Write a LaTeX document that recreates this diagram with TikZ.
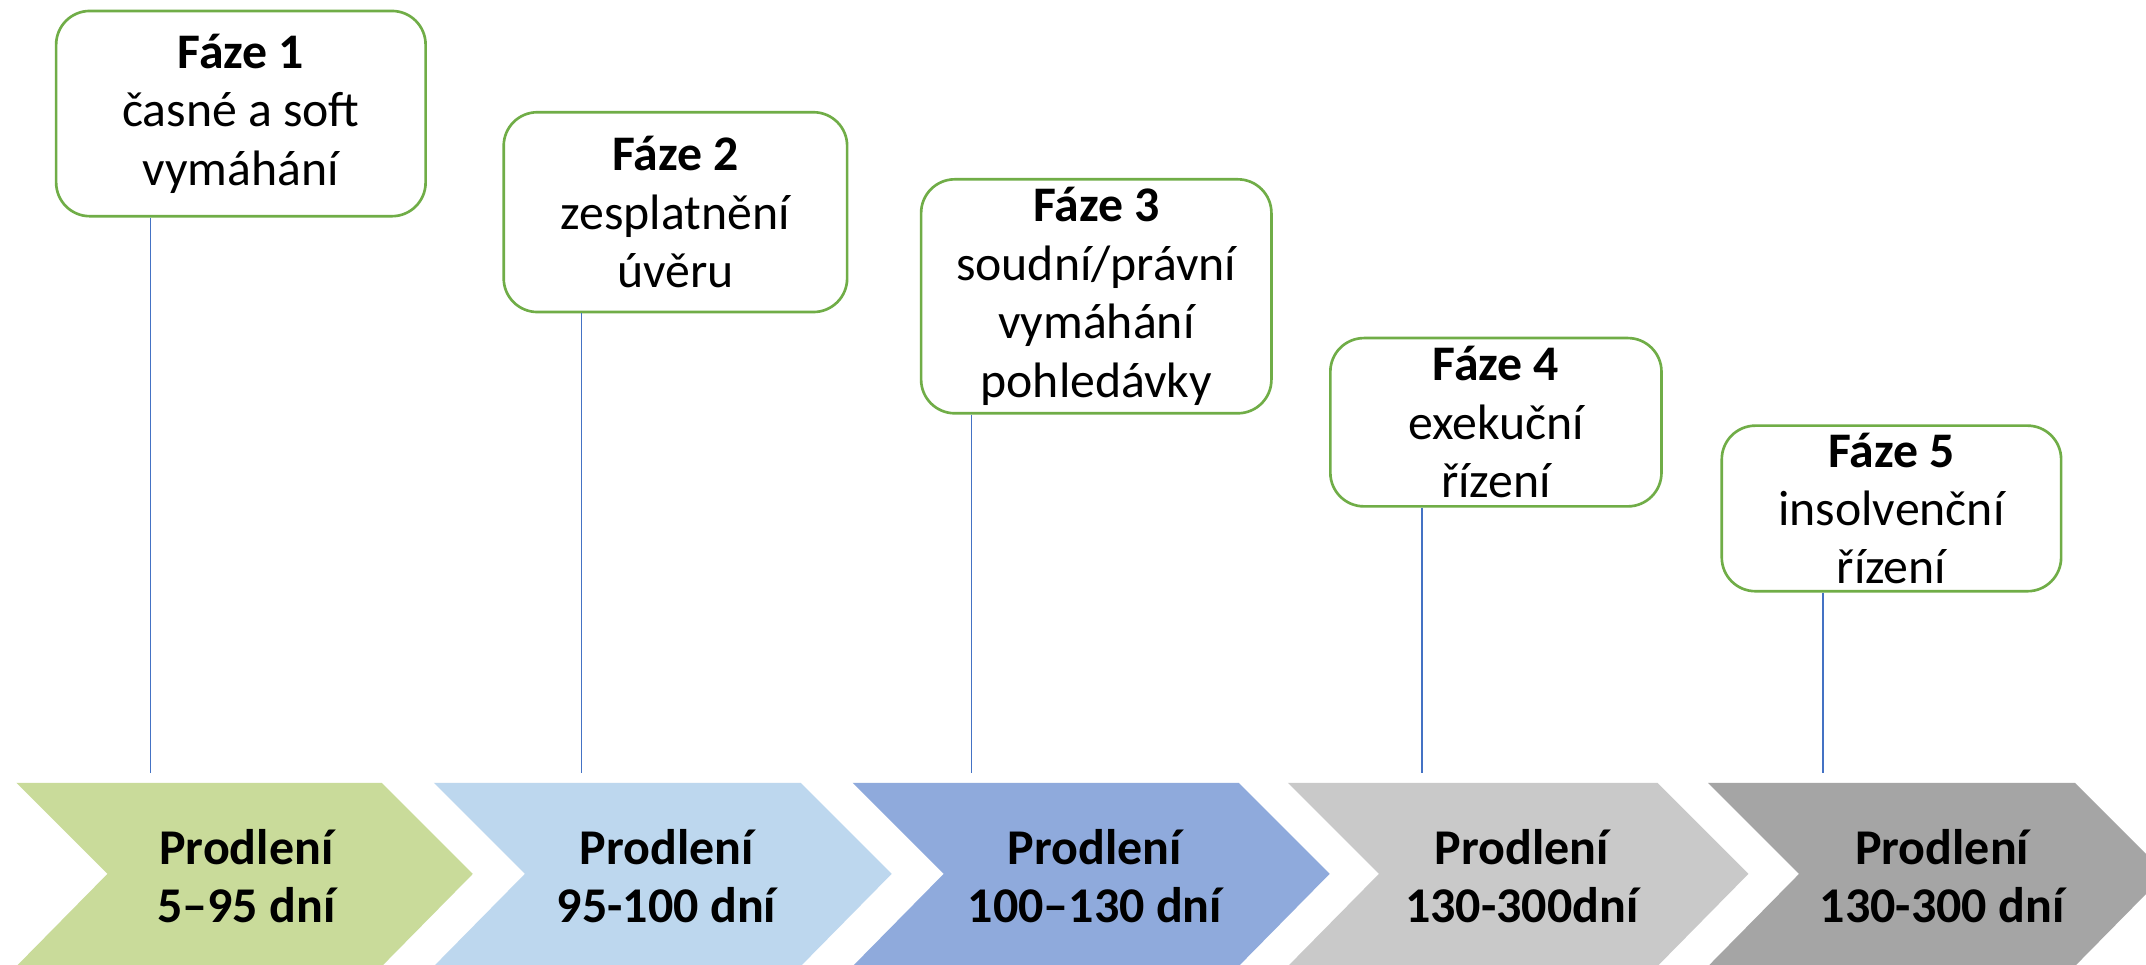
\documentclass[tikz,border=0pt]{standalone}
\usepackage{fontspec}
\setmainfont{Carlito}
\definecolor{chA}{HTML}{C9DB9A}
\definecolor{chB}{HTML}{BDD7EE}
\definecolor{chC}{HTML}{8FAADC}
\definecolor{chD}{HTML}{C9C9C9}
\definecolor{chE}{HTML}{A5A5A5}
\definecolor{boxgreen}{HTML}{70AD47}
\definecolor{lineblue}{HTML}{4472C4}
\begin{document}
\begin{tikzpicture}[x=0.02cm,y=-0.02cm,
  phasebox/.style={draw=boxgreen, line width=1.1pt, fill=white, rounded corners=14pt,
    align=center, inner sep=0pt, font=\fontsize{20.7}{24.3}\selectfont},
  chevtext/.style={align=center, inner sep=0pt, font=\fontsize{20.8}{24.3}\selectfont\bfseries},
  vline/.style={draw=lineblue, line width=0.6pt}]
\useasboundingbox (0,0) rectangle (1568,705);
\fill[white] (0,0) rectangle (1568,705);
% chevrons
\fill[chA] (12,572) -- (279,572) -- (345.5,638.5) -- (279,706) -- (12,706) -- (78.5,638.5) -- cycle;
\fill[chB] (317,572) -- (585,572) -- (651.5,638.5) -- (585,706) -- (317,706) -- (383.5,638.5) -- cycle;
\fill[chC] (623,572) -- (905,572) -- (971.5,638.5) -- (905,706) -- (623,706) -- (689.5,638.5) -- cycle;
\fill[chD] (941,572) -- (1211,572) -- (1277.5,638.5) -- (1211,706) -- (941,706) -- (1007.5,638.5) -- cycle;
\fill[chE] (1248,572) -- (1516,572) -- (1582.5,638.5) -- (1516,706) -- (1248,706) -- (1314.5,638.5) -- cycle;
\node[chevtext] (c1) at (180,640) {Prodlení\\5–95 dní};
\node[chevtext] (c2) at (487,640) {Prodlení\\95-100 dní};
\node[chevtext] (c3) at (800,640) {Prodlení\\100–130 dní};
\node[chevtext] (c4) at (1112,640) {Prodlení\\130-300dní};
\node[chevtext] (c5) at (1419,640) {Prodlení\\130-300 dní};
% boxes
\node[phasebox, minimum width=5.4cm, minimum height=3.0cm] (b1) at (176,83) {\textbf{Fáze 1}\\časné a soft\\vymáhání};
\node[phasebox, minimum width=5.02cm, minimum height=2.92cm] (b2) at (493.5,155) {\textbf{Fáze 2}\\zesplatnění\\úvěru};
\node[phasebox, minimum width=5.12cm, minimum height=3.42cm] (b3) at (801,216.5) {\textbf{Fáze 3}\\soudní/právní\\vymáhání\\pohledávky};
\node[phasebox, minimum width=4.84cm, minimum height=2.46cm] (b4) at (1093,308.5) {\textbf{Fáze 4}\\exekuční\\řízení};
\node[phasebox, minimum width=4.96cm, minimum height=2.42cm] (b5) at (1382,371.5) {\textbf{Fáze 5}\\insolvenční\\řízení};
% connector lines
\coordinate (l1) at (110,565);
\coordinate (l2) at (425,565);
\coordinate (l3) at (710,565);
\coordinate (l4) at (1039,565);
\coordinate (l5) at (1332,565);
\draw[vline] (b1.south -| l1) -- (l1);
\draw[vline] (b2.south -| l2) -- (l2);
\draw[vline] (b3.south -| l3) -- (l3);
\draw[vline] (b4.south -| l4) -- (l4);
\draw[vline] (b5.south -| l5) -- (l5);
\end{tikzpicture}
\end{document}
